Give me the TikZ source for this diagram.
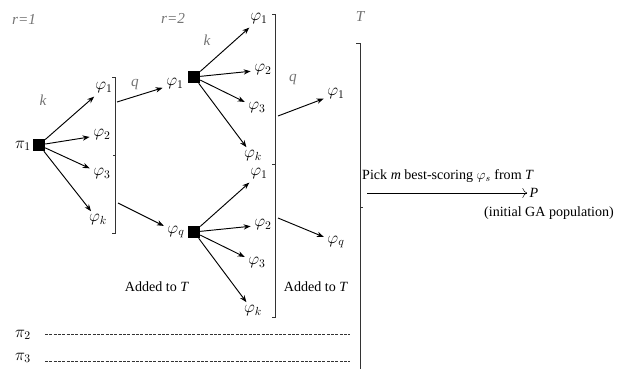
\documentclass[tikz,border=0pt]{standalone}
\usepackage{fontspec}
\setmainfont{Liberation Serif}
\usetikzlibrary{arrows.meta}
\begin{document}
\begin{tikzpicture}[x = 0.03cm, y = -0.03cm,
    every node/.style = {inner sep = 2pt, font = \fontsize{12}{14}\selectfont},
    sym/.style = {font = \fontsize{14}{16}\selectfont},
    box/.style = {fill = black, minimum size = 0.36cm, inner sep = 0pt},
    link/.style = {-{Stealth[length = 6pt, width = 4.5pt]}, thick, shorten > = 1pt},
    tag/.style = {font = \fontsize{13}{15}\selectfont\itshape, text = black!55},
    rim/.style = {draw = black!80, line width = 0.6pt}]
  \useasboundingbox (0,0) rectangle (621,369);

  % round labels
  \node[tag] (r1) at (24,19) {r=1};
  \node[tag] (r2) at (173,18) {r=2};
  \node[tag] (t) at (360,17) {T};

  % first round
  \node[sym] (p1) at (23,146) {$\pi_1$};
  \node[box] (s1) at (39,145) {};
  \node[tag] (k1) at (43,100) {k};
  \foreach \n/\x/\y/\t in {a1/104/88/1, a2/102/135/2, a3/102/174/3, ak/98/220/k}
  {
    \node[sym] (\n) at (\x,\y) {$\varphi_{\t}$};
    \draw[link] (s1) -- (\n);
  };
  \draw[rim] (112,77) -- (115,77) -- (115,233) -- (112,233);
  \draw[rim] (115,155) -- (113,155);

  % picked for second round
  \node[tag] (q1) at (135,85) {q};
  \coordinate (m1) at (117,102);
  \coordinate (m2) at (118,203);
  \node[sym] (c1) at (175,84) {$\varphi_1$};
  \node[sym] (cq) at (176,232) {$\varphi_q$};
  \draw[link] (m1) -- (c1);
  \draw[link] (m2) -- (cq);

  % second round
  \node[tag] (k2) at (207,40) {k};
  \foreach \s/\d in {s2/0, s3/155}
  {
    \node[box] (\s) at (194,77+\d) {};
    \foreach \n/\x/\y/\t in {1/259/19/1, 2/263/70/2, 3/257/108/3, k/253/156/k}
    {
      \node[sym] (\s-\n) at (\x,\y+\d) {$\varphi_{\t}$};
      \draw[link] (\s) -- (\s-\n);
    };
  };
  \draw[rim] (272,14) -- (275,14) -- (275,317) -- (272,317);
  \draw[rim] (275,164) -- (272,164);

  % picked for T
  \node[tag] (q2) at (293,80) {q};
  \coordinate (n1) at (278,116);
  \coordinate (n2) at (278,218);
  \node[sym] (d1) at (336,94) {$\varphi_1$};
  \node[sym] (dq) at (336,242) {$\varphi_q$};
  \draw[link] (n1) -- (d1);
  \draw[link] (n2) -- (dq);

  \node (add1) at (157,287) {Added to \textit{T}};
  \node (add2) at (316,287) {Added to \textit{T}};

  % other roots
  \node[sym] (p2) at (23,335) {$\pi_2$};
  \node[sym] (p3) at (23,358) {$\pi_3$};
  \coordinate (e2) at (350,334);
  \coordinate (e3) at (350,361);
  \draw[dashed, dash pattern = on 2.5pt off 1.2pt, black!80] (p2) ++(22,-1) -- (e2);
  \draw[dashed, dash pattern = on 2.5pt off 1.2pt, black!80] (p3) ++(22,3) -- (e3);

  % final set
  \draw[rim] (356,43) -- (360,43) -- (360,369);
  \draw[rim] (360,207) -- (363,207);
  \node[anchor = west, inner sep = 0pt] (pick) at (362,176)
    {Pick \textit{m} best-scoring $\varphi_s$ from \textit{T}};
  \coordinate (pa) at (367,193);
  \node (pp) at (534,193) {\textit{P}};
  \draw[-{To[length = 4pt]}, thin] (pa) -- (pp);
  \node (ga) at (549,213) {(initial GA population)};
\end{tikzpicture}
\end{document}
